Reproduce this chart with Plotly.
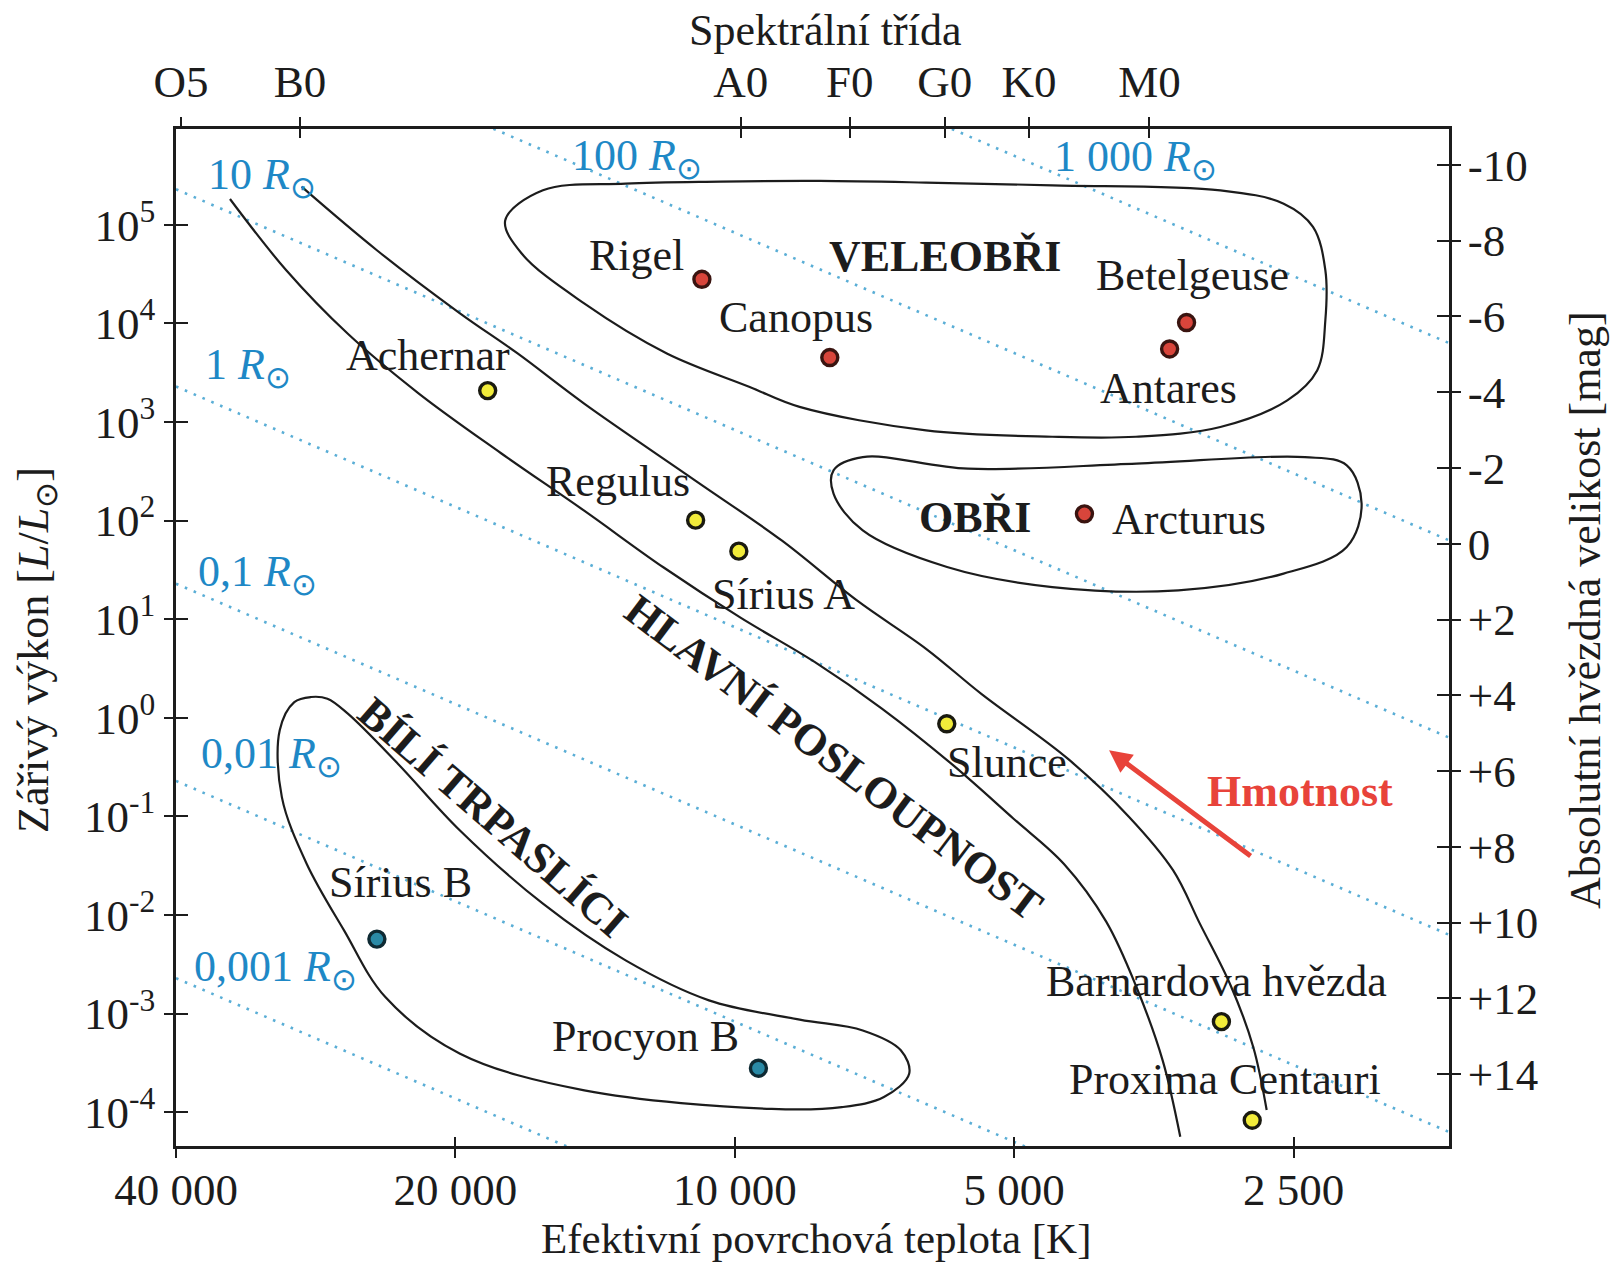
import numpy as np
import plotly.graph_objects as go

FONT = "Liberation Serif"
INK = "#1c1c1c"
DOT_BLUE = "#5aaed6"
LABEL_BLUE = "#1e88c6"
RED = "#e8433a"

# ---------------- data ----------------
star_names = ["Rigel", "Canopus", "Betelgeuse", "Antares", "Arcturus",
              "Achernar", "Regulus", "Sírius A", "Slunce",
              "Barnardova hvězda", "Proxima Centauri", "Sírius B", "Procyon B"]
star_temperature = [10850, 7900, 3260, 3400, 4200,
                    18460, 11020, 9900, 5910,
                    2990, 2770, 24300, 9430]
star_luminosity = [2.8e4, 4.5e3, 1.02e4, 5.5e3, 117,
                   2.08e3, 101, 49, 0.87,
                   8.3e-4, 8.3e-5, 5.7e-3, 2.8e-4]
star_group = ["red", "red", "red", "red", "red",
              "yellow", "yellow", "yellow", "yellow",
              "yellow", "yellow", "teal", "teal"]

temp_tick_vals = [40000, 20000, 10000, 5000, 2500]
temp_tick_text = ["40 000", "20 000", "10 000", "5 000", "2 500"]

spectral_classes = ["O5", "B0", "A0", "F0", "G0", "K0", "M0"]
spectral_temps = [39500, 29400, 9850, 7520, 5940, 4820, 3575]

lum_tick_vals = [1e-4, 1e-3, 1e-2, 1e-1, 1e0, 1e1, 1e2, 1e3, 1e4, 1e5]
lum_tick_text = ["10<sup>-4</sup>", "10<sup>-3</sup>", "10<sup>-2</sup>", "10<sup>-1</sup>",
                 "10<sup>0</sup>", "10<sup>1</sup>", "10<sup>2</sup>", "10<sup>3</sup>",
                 "10<sup>4</sup>", "10<sup>5</sup>"]

mag_tick_vals = [-10, -8, -6, -4, -2, 0, 2, 4, 6, 8, 10, 12, 14]
mag_tick_text = ["-10", "-8", "-6", "-4", "-2", "0", "+2", "+4", "+6", "+8", "+10", "+12", "+14"]

# constant-radius lines: log10 L at the hot (40 000 K) and cool (1 700 K) edges
radius_labels = ["0,001", "0,01", "0,1", "1", "10", "100", "1 000"]
radius_line_T = [40000, 1700]
radius_logL_hot = [-2.64, -0.64, 1.36, 3.36, 5.36, 7.36, 9.36]
radius_logL_cool = [-8.20, -6.20, -4.20, -2.20, -0.20, 1.80, 3.80]

# region outlines (log10 T, log10 L)
ms_left_logT = [4.5439, 4.4835, 4.4169, 4.3404, 4.2518, 4.1619, 4.0766, 3.9934, 3.9136,
                3.8415, 3.7661, 3.6996, 3.6453, 3.5998, 3.5666, 3.5389, 3.5200]
ms_left_logL = [5.261, 4.541, 3.894, 3.288, 2.683, 2.098, 1.524, 1.013, 0.564,
                0.094, -0.470, -1.023, -1.482, -2.067, -2.745, -3.476, -4.248]
ms_right_logT = [4.4668, 4.3853, 4.2961, 4.2340, 4.1619, 4.0433, 3.9491, 3.8684, 3.7939,
                 3.7340, 3.6409, 3.5754, 3.5278, 3.4989, 3.4657, 3.4413, 3.4269]
ms_right_logL = [5.386, 4.739, 4.102, 3.695, 3.184, 2.411, 1.796, 1.190, 0.700,
                 0.240, -0.417, -1.002, -1.545, -2.087, -2.714, -3.340, -3.977]

supergiant_logT = [4.2473, 4.2067, 4.1176, 4.0156, 3.9081, 3.7939, 3.6579, 3.4768, 3.4086,
                   3.3770, 3.3637, 3.3637, 3.3725, 3.4047, 3.4768, 3.5677, 3.6580, 3.7939,
                   3.9302, 3.9839, 4.0732, 4.1619, 4.2296, 4.2473]
supergiant_logL = [5.045, 5.349, 5.418, 5.438, 5.444, 5.428, 5.400, 5.349, 5.214,
                   4.979, 4.541, 4.029, 3.523, 3.219, 2.949, 2.850, 2.850, 2.915,
                   3.153, 3.355, 3.695, 4.200, 4.708, 5.045]

giant_logT = [3.8936, 3.8621, 3.7486, 3.5672, 3.3858, 3.3406, 3.3246, 3.3406, 3.4087,
              3.5220, 3.6579, 3.7713, 3.8621, 3.8936, 3.8936]
giant_logL = [2.510, 2.644, 2.526, 2.578, 2.644, 2.560, 2.171, 1.732, 1.462,
              1.292, 1.326, 1.529, 1.900, 2.273, 2.510]

dwarf_logT = [4.4566, 4.4389, 4.4169, 4.3630, 4.2961, 4.2067, 4.1176, 4.0278, 3.9300,
              3.8621, 3.8211, 3.8121, 3.8393, 3.8847, 3.9602, 4.1621, 4.2960, 4.3765,
              4.4210, 4.4613, 4.4880, 4.4903, 4.4746, 4.4566]
dwarf_logL = [0.211, 0.194, 0.042, -0.465, -1.142, -1.885, -2.460, -2.865, -3.060,
              -3.170, -3.371, -3.609, -3.846, -3.948, -3.966, -3.778, -3.406, -2.832,
              -2.155, -1.479, -0.804, -0.127, 0.160, 0.211]

# ---------------- figure ----------------
X_RANGE = [np.log10(40000), np.log10(1700)]
Y_RANGE = [-4.342, 5.971]
MAG_RANGE = [15.90, -10.95]

fig = go.Figure()

for l_hot, l_cool in zip(radius_logL_hot, radius_logL_cool):
    fig.add_trace(go.Scatter(
        x=radius_line_T, y=[10 ** l_hot, 10 ** l_cool], mode="lines",
        line=dict(color=DOT_BLUE, width=2.6, dash="2.6px,7px"),
        hoverinfo="skip", showlegend=False))

for lt, ll in [(ms_left_logT, ms_left_logL), (ms_right_logT, ms_right_logL),
               (supergiant_logT, supergiant_logL), (giant_logT, giant_logL),
               (dwarf_logT, dwarf_logL)]:
    fig.add_trace(go.Scatter(
        x=10 ** np.array(lt), y=10 ** np.array(ll), mode="lines",
        line=dict(color=INK, width=2.2, shape="spline", smoothing=1.0),
        hoverinfo="skip", showlegend=False))

group_fill = {"red": "#d8453b", "yellow": "#f2ec3a", "teal": "#2a8aa6"}
group_edge = {"red": "#3a1410", "yellow": "#1a1a10", "teal": "#0e2a33"}
fig.add_trace(go.Scatter(
    x=star_temperature, y=star_luminosity, mode="markers",
    marker=dict(size=16, color=[group_fill[g] for g in star_group],
                line=dict(color=[group_edge[g] for g in star_group], width=3.4)),
    text=star_names, hoverinfo="text", showlegend=False))

# dummy traces so every helper axis exists
for xa, ya, yv in [("x2", "y", 1), ("x", "y2", 0), ("x3", "y3", 1), ("x4", "y4", 0)]:
    fig.add_trace(go.Scatter(x=[5000], y=[yv], xaxis=xa, yaxis=ya, mode="markers",
                             marker=dict(opacity=0), hoverinfo="skip", showlegend=False))

tick_font = dict(family=FONT, size=45, color=INK)
common = dict(showgrid=False, zeroline=False, tickcolor=INK, tickwidth=2)

fig.update_layout(
    width=1614, height=1266, autosize=False,
    margin=dict(l=176, r=165, t=129, b=120),
    paper_bgcolor="white", plot_bgcolor="white",
    font=dict(family=FONT, color=INK),
    xaxis=dict(type="log", range=X_RANGE, tickvals=temp_tick_vals, ticktext=temp_tick_text,
               ticks="outside", ticklen=9, showline=True, linecolor=INK, linewidth=2.5,
               tickfont=tick_font, ticklabelstandoff=-7, anchor="y", **common),
    xaxis2=dict(type="log", range=X_RANGE, overlaying="x", side="top", anchor="y",
                tickvals=spectral_temps, ticktext=spectral_classes,
                ticks="outside", ticklen=9, showline=True, linecolor=INK, linewidth=2.5,
                tickfont=tick_font, ticklabelstandoff=2, **common),
    xaxis3=dict(type="log", range=X_RANGE, overlaying="x", side="bottom", anchor="y",
                tickvals=temp_tick_vals, ticks="inside", ticklen=9, showticklabels=False,
                showline=False, **common),
    xaxis4=dict(type="log", range=X_RANGE, overlaying="x", side="top", anchor="y",
                tickvals=spectral_temps[1:], ticks="inside", ticklen=9, showticklabels=False,
                showline=False, **common),
    yaxis=dict(type="log", range=Y_RANGE, tickvals=lum_tick_vals, ticktext=lum_tick_text,
               ticks="outside", ticklen=9, showline=True, linecolor=INK, linewidth=2.5,
               tickfont=tick_font, ticklabelstandoff=0, anchor="x", **common),
    yaxis2=dict(range=MAG_RANGE, overlaying="y", side="right", anchor="x",
                tickvals=mag_tick_vals, ticktext=mag_tick_text,
                ticks="outside", ticklen=9, showline=True, linecolor=INK, linewidth=2.5,
                tickfont=tick_font, ticklabelstandoff=-2, **common),
    yaxis3=dict(type="log", range=Y_RANGE, overlaying="y", side="left", anchor="x",
                tickvals=lum_tick_vals, ticks="inside", ticklen=12, showticklabels=False,
                showline=False, **common),
    yaxis4=dict(range=MAG_RANGE, overlaying="y", side="right", anchor="x",
                tickvals=mag_tick_vals, ticks="inside", ticklen=12, showticklabels=False,
                showline=False, **common),
)

ann = []
text_font = dict(family=FONT, size=44, color=INK)

# star labels: (xanchor, xshift, yshift) in pixels
label_place = {
    "Rigel": ("right", -16, 24), "Canopus": ("center", -34, 40),
    "Betelgeuse": ("center", 6, 47), "Antares": ("center", -1, -40),
    "Arcturus": ("left", 26, -6), "Achernar": ("center", -60, 35),
    "Regulus": ("center", -78, 39), "Sírius A": ("center", 45, -43),
    "Slunce": ("center", 60, -39), "Barnardova hvězda": ("center", -5, 40),
    "Proxima Centauri": ("center", -27, 41), "Sírius B": ("center", 24, 57),
    "Procyon B": ("center", -113, 32),
}
for name, t, l in zip(star_names, star_temperature, star_luminosity):
    xa, xs, ys = label_place[name]
    ann.append(dict(x=np.log10(t), y=np.log10(l), xref="x", yref="y", text=name,
                    showarrow=False, xanchor=xa, yanchor="middle", xshift=xs, yshift=ys,
                    font=text_font))

# radius labels
radius_label_pos = {"10": (4.5699, 5.480), "100": (4.1775, 5.668), "1 000": (3.6586, 5.658),
                    "1": (4.5733, 3.549), "0,1": (4.5800, 1.451), "0,01": (4.5777, -0.396),
                    "0,001": (4.5844, -2.557)}
for lab in radius_labels:
    px, py = radius_label_pos[lab]
    ann.append(dict(x=px, y=py, xref="x", yref="y",
                    text=f"{lab} <i>R</i><sub>⊙</sub>", showarrow=False,
                    xanchor="left", yanchor="middle",
                    font=dict(family=FONT, size=44, color=LABEL_BLUE)))

# region labels
bold_font = dict(family=FONT, size=44, color=INK)
ann += [
    dict(x=3.7739, y=4.676, xref="x", yref="y", text="<b>VELEOBŘI</b>", showarrow=False,
         font=bold_font),
    dict(x=3.7417, y=2.036, xref="x", yref="y", text="<b>OBŘI</b>", showarrow=False,
         font=bold_font),
    dict(x=3.8936, y=-0.407, xref="x", yref="y", text="<b>HLAVNÍ POSLOUPNOST</b>",
         showarrow=False, textangle=37, font=bold_font),
    dict(x=4.2606, y=-1.012, xref="x", yref="y", text="<b>BÍLÍ TRPASLÍCI</b>",
         showarrow=False, textangle=41, font=bold_font),
    dict(x=3.3905, y=-0.751, xref="x", yref="y", text="<b>Hmotnost</b>", showarrow=False,
         font=dict(family=FONT, size=44, color=RED)),
    dict(x=3.5967, y=-0.330, xref="x", yref="y", ax=3.4426, ay=-1.412,
         axref="x", ayref="y", text="", showarrow=True, arrowhead=2, arrowsize=0.9,
         arrowwidth=5, arrowcolor=RED),
]

# axis titles
title_font = dict(family=FONT, size=44, color=INK)
ann += [
    dict(x=0.5106, y=1.0964, xref="paper", yref="paper", text="Spektrální třída",
         showarrow=False, font=title_font, xanchor="center", yanchor="middle"),
    dict(x=0.5027, y=-0.0905, xref="paper", yref="paper",
         text="Efektivní povrchová teplota [K]",
         showarrow=False, font=dict(family=FONT, size=43, color=INK),
         xanchor="center", yanchor="middle"),
    dict(x=-0.110, y=0.4877, xref="paper", yref="paper",
         text="Zářivý výkon [<i>L</i>/<i>L</i><sub>⊙</sub>]", textangle=-90,
         showarrow=False, font=title_font, xanchor="center", yanchor="middle"),
    dict(x=1.1068, y=0.527, xref="paper", yref="paper",
         text="Absolutní hvězdná velikost [mag]", textangle=-90,
         showarrow=False, font=title_font, xanchor="center", yanchor="middle"),
]
fig.update_layout(annotations=ann)

fig.write_html("out.html", config={"displayModeBar": False},
               post_script="document.body.style.margin='0px';document.body.style.overflow='hidden';")
